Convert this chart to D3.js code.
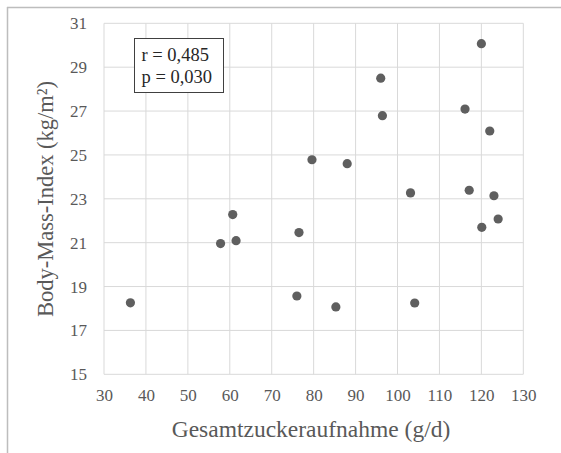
<!DOCTYPE html>
<html>
<head>
<meta charset="utf-8">
<script src="https://cdn.jsdelivr.net/npm/d3@7"></script>
<style>
  html, body { margin: 0; padding: 0; background: #fff; }
  svg { display: block; }
  text { font-family: "Liberation Serif", "Times New Roman", serif; }
</style>
</head>
<body>
<svg id="chart" width="561" height="453"></svg>
<script>
// Total sugar intake (g/d) per participant
const sugarIntake = [36.3, 57.8, 60.7, 61.5, 76.0, 76.5, 79.6, 85.3, 88.0, 96.0,
                     96.4, 103.1, 104.1, 116.1, 117.1, 120.0, 120.1, 122.0, 123.0, 124.0];
// Body mass index (kg/m²) per participant
const bmi = [18.26, 20.96, 22.28, 21.09, 18.57, 21.46, 24.78, 18.07, 24.6, 28.5,
             26.79, 23.27, 18.25, 27.09, 23.39, 30.07, 21.7, 26.09, 23.14, 22.08];

const xTicks = [30, 40, 50, 60, 70, 80, 90, 100, 110, 120, 130];
const yTicks = [15, 17, 19, 21, 23, 25, 27, 29, 31];
const statsLines = ["r = 0,485", "p = 0,030"];

const svg = d3.select("#chart");

const plot = { left: 104, right: 523.3, top: 23.3, bottom: 374.3 };

const x = d3.scaleLinear().domain([30, 130]).range([plot.left, plot.right]);
const y = d3.scaleLinear().domain([15, 31]).range([plot.bottom, plot.top]);

// Frame around the chart area (top and left edges)
svg.append("line").attr("x1", 7).attr("x2", 561).attr("y1", 7.5).attr("y2", 7.5)
  .attr("stroke", "#bdbdbd").attr("stroke-width", 1.5);
svg.append("line").attr("x1", 7.5).attr("x2", 7.5).attr("y1", 7).attr("y2", 453)
  .attr("stroke", "#bdbdbd").attr("stroke-width", 1.5);

// Gridlines
const grid = svg.append("g");
grid.selectAll("line.v").data(xTicks).join("line")
  .attr("class", "v")
  .attr("x1", d => x(d)).attr("x2", d => x(d))
  .attr("y1", plot.top).attr("y2", plot.bottom)
  .attr("stroke", "#d9d9d9").attr("stroke-width", 1);
grid.selectAll("line.h").data(yTicks).join("line")
  .attr("class", "h")
  .attr("x1", plot.left).attr("x2", plot.right)
  .attr("y1", d => y(d)).attr("y2", d => y(d))
  .attr("stroke", "#d9d9d9").attr("stroke-width", 1);

// Axes (labels only, lines come from the grid)
const xAxis = svg.append("g")
  .attr("transform", `translate(0,${plot.bottom})`)
  .call(d3.axisBottom(x).tickValues(xTicks).tickSize(0).tickPadding(15));
const yAxis = svg.append("g")
  .attr("transform", `translate(${plot.left},0)`)
  .call(d3.axisLeft(y).tickValues(yTicks).tickSize(0).tickPadding(17));
[xAxis, yAxis].forEach(a => {
  a.attr("font-family", null).attr("font-size", null);
  a.select(".domain").remove();
  a.selectAll("text")
    .style("font-family", '"Liberation Serif", "Times New Roman", serif')
    .style("font-size", "17px").attr("fill", "#595959");
});

// Axis titles
svg.append("text")
  .attr("x", 311).attr("y", 437)
  .attr("text-anchor", "middle")
  .style("font-size", "23.5px").attr("fill", "#595959")
  .text("Gesamtzuckeraufnahme (g/d)");
svg.append("text")
  .attr("transform", "translate(53,199) rotate(-90)")
  .attr("text-anchor", "middle")
  .style("font-size", "22.5px").attr("fill", "#595959")
  .text("Body-Mass-Index (kg/m²)");

// Data points
svg.append("g").selectAll("circle")
  .data(d3.zip(sugarIntake, bmi))
  .join("circle")
  .attr("cx", d => x(d[0]))
  .attr("cy", d => y(d[1]))
  .attr("r", 4.6)
  .attr("fill", "#5f5f5f");

// Correlation statistics box
const box = svg.append("g");
box.append("rect")
  .attr("x", 134.5).attr("y", 38.5).attr("width", 89).attr("height", 54)
  .attr("fill", "#fff").attr("stroke", "#404040").attr("stroke-width", 1);
box.selectAll("text").data(statsLines).join("text")
  .attr("x", 141.5)
  .attr("y", (d, i) => 61 + i * 22)
  .style("font-size", "18.5px").attr("fill", "#262626")
  .text(d => d);
</script>
</body>
</html>
